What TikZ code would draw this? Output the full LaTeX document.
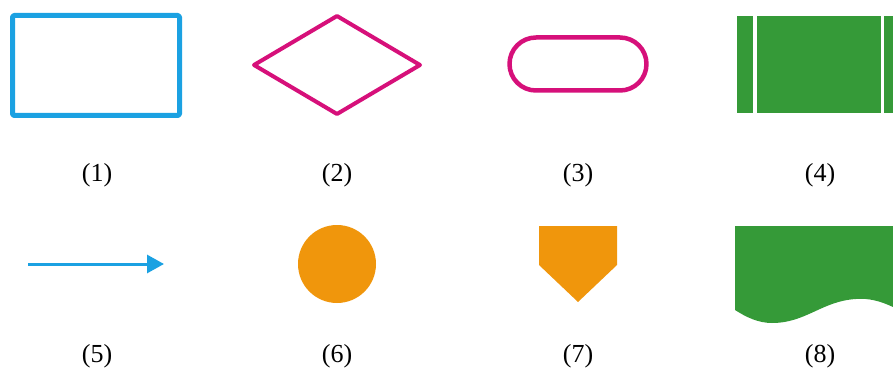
\documentclass[tikz,border=0pt]{standalone}
\usepackage{fontspec}
\setmainfont{Liberation Serif}
\usetikzlibrary{arrows.meta,positioning}
\definecolor{symblue}{RGB}{27,161,226}
\definecolor{symred}{RGB}{214,16,122}
\definecolor{symgreen}{RGB}{53,154,56}
\definecolor{symorange}{RGB}{240,150,12}
\tikzset{
  outl/.style={line width=4.5pt, line join=round},
  solid fill/.style={fill=#1, draw=none},
  tag/.style={font=\fontsize{26}{30}\selectfont, anchor=center, inner sep=0pt},
}

\begin{document}
\begin{tikzpicture}[x=1pt, y=-1pt]
  \useasboundingbox (0,0) rectangle (893,374);
  % row 1
  \draw[outl, symblue, line width=5pt, rounded corners=1.5pt] (12.5,15.5) rectangle (179.5,115.5);
  \draw[outl, symred, line width=4pt] (254,65) -- (337,16) -- (420,65) -- (337,114) -- cycle;
  \draw[outl, symred, rounded corners=26.5pt] (509.5,37.5) rectangle (646.5,90.5);
  \fill[solid fill=symgreen] (737,16) rectangle (753,113);
  \fill[solid fill=symgreen] (757,16) rectangle (881,113);
  \fill[solid fill=symgreen] (884,16) rectangle (893,113);
  \node[tag] (l1) at (97,175) {(1)};
  \node[tag] (l2) at (337,175) {(2)};
  \node[tag] (l3) at (578,175) {(3)};
  \node[tag] (l4) at (820,175) {(4)};
  % row 2
  \coordinate (a0) at (28,264);
  \coordinate (a1) at (164,264);
  \draw[symblue, line width=3pt, -{Triangle[length=17pt,width=18pt]}] (a0) -- (a1);
  \fill[solid fill=symorange] (337,264) circle (39pt);
  \fill[solid fill=symorange] (539,226) -- (617,226) -- (617,265) -- (578,302) -- (539,265) -- cycle;
  \fill[solid fill=symgreen] (735,226) -- (893,226) -- (893,307)
    .. controls (880,301) and (869,298) .. (856,299)
    .. controls (822,301) and (806,323) .. (772,323)
    .. controls (758,323) and (746,317) .. (735,310) -- cycle;
  \node[tag] (l5) at (97,356) {(5)};
  \node[tag] (l6) at (337,356) {(6)};
  \node[tag] (l7) at (578,356) {(7)};
  \node[tag] (l8) at (820,356) {(8)};
\end{tikzpicture}
\end{document}
